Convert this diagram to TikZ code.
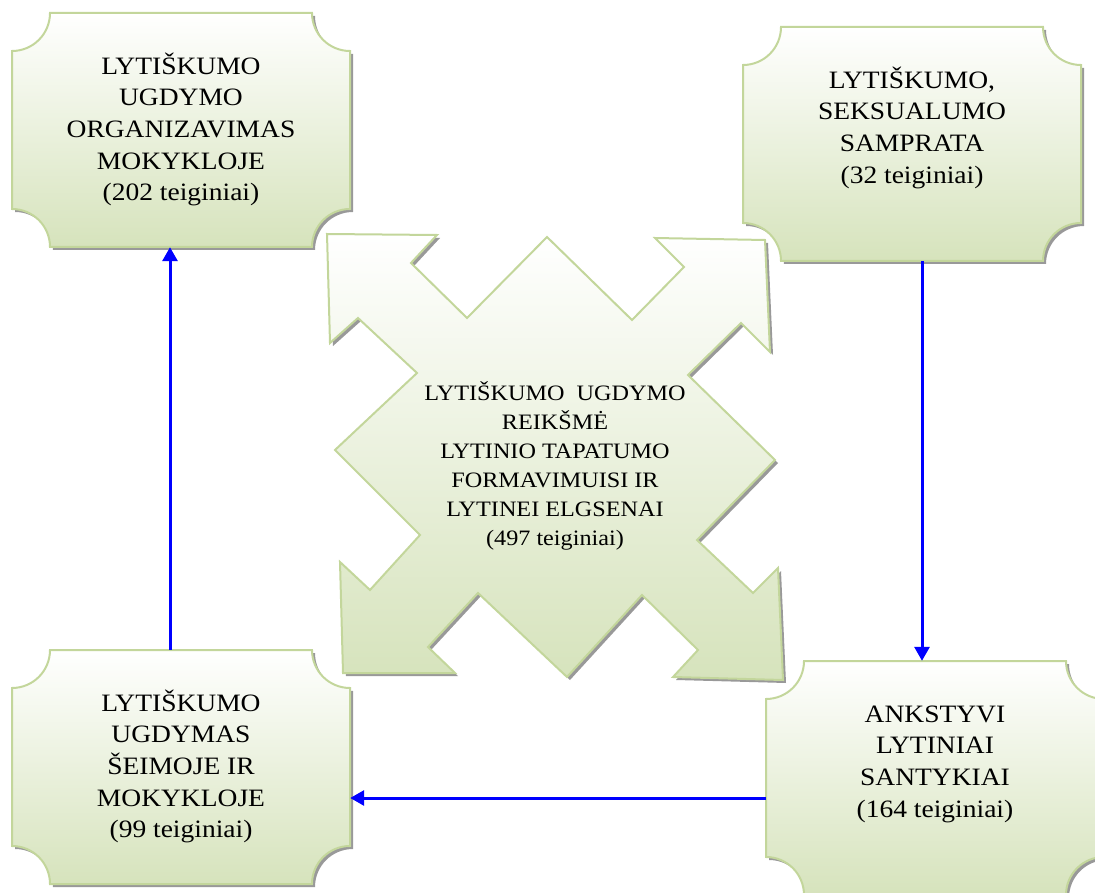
\documentclass[tikz,border=0pt]{standalone}
\usepackage{fontspec}
\setmainfont{Liberation Serif}[FakeStretch=1.1]
\usepackage{tikz}
\usetikzlibrary{arrows.meta}
\definecolor{plaqueline}{RGB}{195,214,155}
\definecolor{plaquegreen}{RGB}{214,227,188}
\tikzset{>/.tip={Triangle[length=14pt,width=15pt]},
  plaquebody/.style={draw=plaqueline, line width=2pt, top color=white, bottom color=plaquegreen,
    preaction={fill=black!40, transform canvas={xshift=3pt,yshift=-3pt}}},
  plaquetext/.style={minimum width=338pt, minimum height=234pt, inner sep=0pt, font=\fontsize{25pt}{31.7pt}\selectfont},
  coretext/.style={anchor=north, inner sep=0pt, align=center, font=\fontsize{22pt}{29pt}\selectfont},
  flow/.style={->, draw=blue, line width=3pt}}
\newcommand{\plaque}[2]{\path[plaquebody] (#1+38,#2) -- (#1+300,#2)
  .. controls (#1+300,#2+21) and (#1+317,#2+38) .. (#1+338,#2+38) -- (#1+338,#2+196)
  .. controls (#1+317,#2+196) and (#1+300,#2+213) .. (#1+300,#2+234) -- (#1+38,#2+234)
  .. controls (#1+38,#2+213) and (#1+21,#2+196) .. (#1,#2+196) -- (#1,#2+38)
  .. controls (#1+21,#2+38) and (#1+38,#2+21) .. (#1+38,#2) -- cycle;}
\newcommand{\boxlines}[1]{\parbox[c][156pt][t]{330pt}{\centering\strut#1}}

\begin{document}
\begin{tikzpicture}[x=1pt,y=-1pt]
\useasboundingbox (0,0) rectangle (1095,893);
\path[plaquebody] (335,450) -- (417,373) -- (358,318) -- (330,343) -- (327,234) -- (437,235)
  -- (411,263) -- (467,318) -- (547,237) -- (632,320) -- (684,267) -- (655,238) -- (765,240)
  -- (770,352) -- (741,323) -- (688,375) -- (775,460) -- (697,540) -- (753,593) -- (778,568)
  -- (783,680) -- (673,677) -- (698,650) -- (642,595) -- (567,677) -- (478,593) -- (428,647)
  -- (455,673) -- (343,673) -- (340,562) -- (370,590) -- (420,535) -- cycle;
\plaque{12}{13}
\plaque{743}{27}
\plaque{12}{650}
\plaque{766}{661}

\node[plaquetext] (org) at (181,130) {\boxlines{LYTIŠKUMO\\UGDYMO\\ORGANIZAVIMAS\\MOKYKLOJE\\(202 teiginiai)}};
\node[plaquetext] (sam) at (912,144) {\boxlines{LYTIŠKUMO,\\SEKSUALUMO\\SAMPRATA\\(32 teiginiai)}};
\node[plaquetext] (fam) at (181,767) {\boxlines{LYTIŠKUMO\\UGDYMAS\\ŠEIMOJE IR\\MOKYKLOJE\\(99 teiginiai)}};
\node[plaquetext] (ank) at (935,778) {\boxlines{ANKSTYVI\\LYTINIAI\\SANTYKIAI\\(164 teiginiai)}};
\node[coretext] (core) at (555,380) {\strut LYTIŠKUMO\ \ UGDYMO\\REIKŠMĖ\\LYTINIO TAPATUMO\\FORMAVIMUISI IR\\LYTINEI ELGSENAI\\(497 teiginiai)};

\draw[flow] ([xshift=-11pt]fam.north) -- ([xshift=-11pt]org.south);
\draw[flow] ([xshift=10pt]sam.south) -- ([xshift=10pt]sam.south |- ank.north);
\draw[flow] ([yshift=-20pt]ank.west) -- ([yshift=-20pt]ank.west -| fam.east);
\end{tikzpicture}
\end{document}
